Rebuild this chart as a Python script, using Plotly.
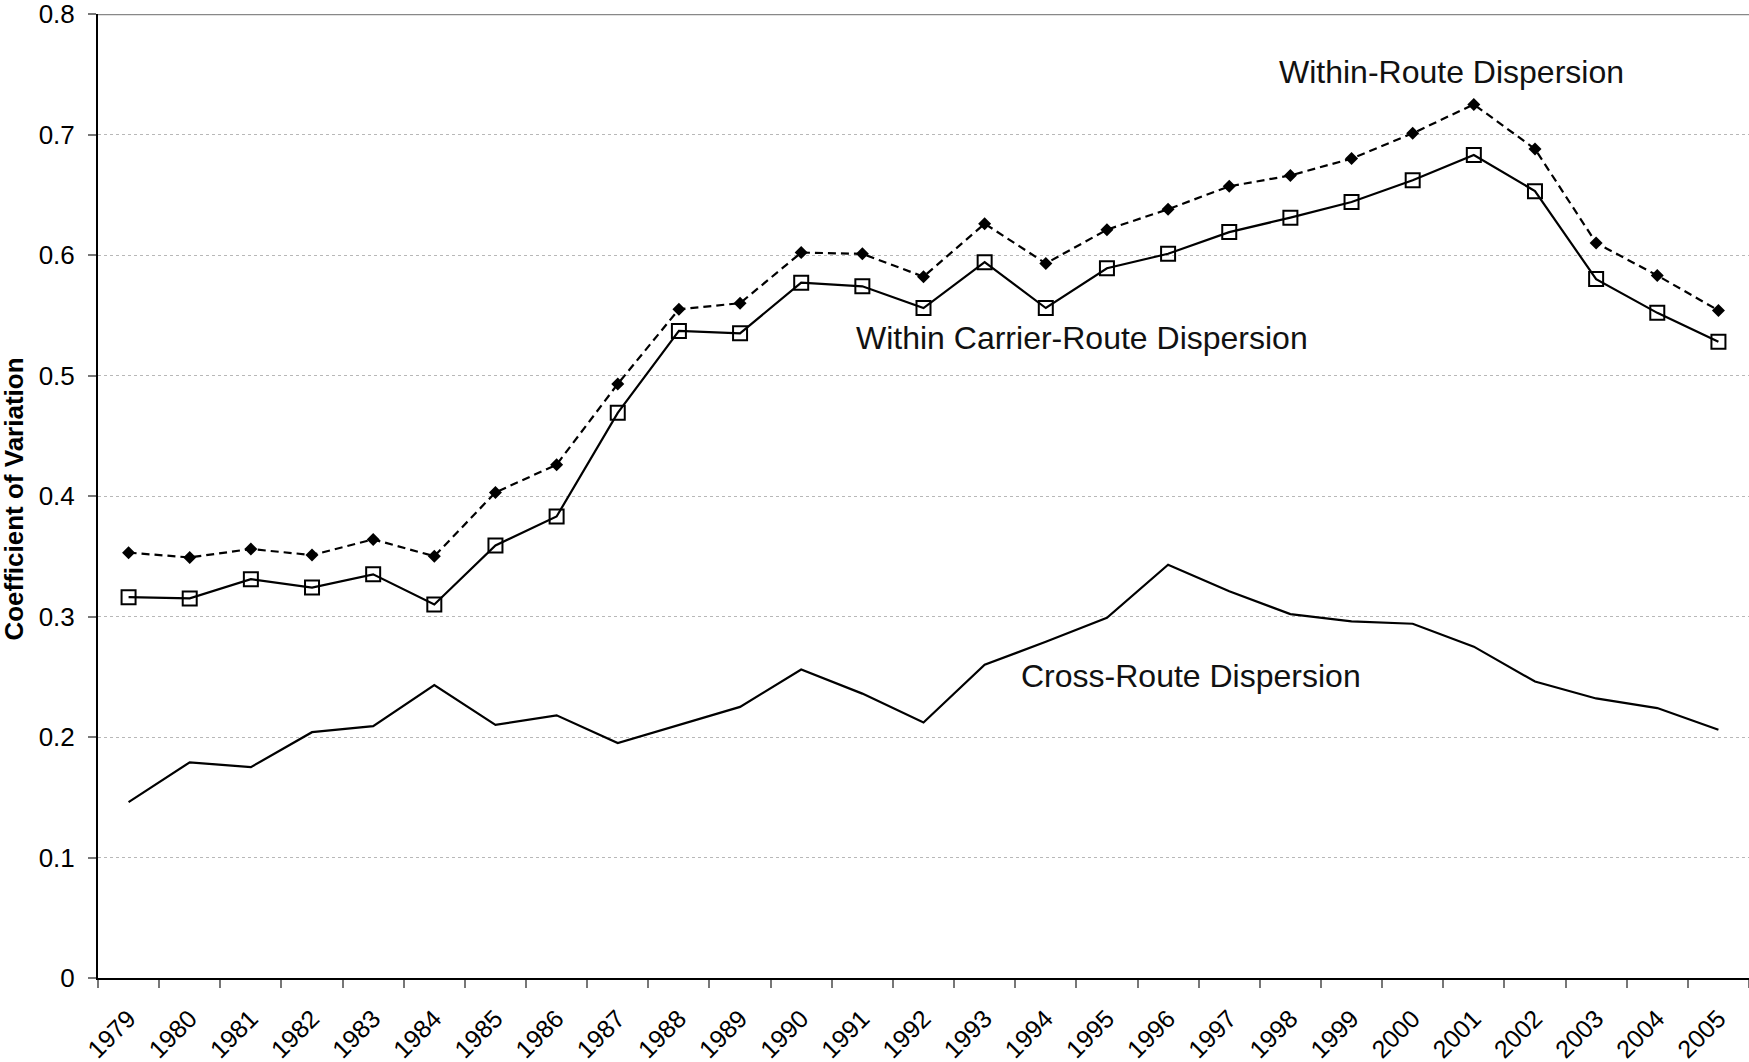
import plotly.graph_objects as go

years = [str(y) for y in range(1979, 2006)]

within_route = [0.353, 0.349, 0.356, 0.351, 0.364, 0.350, 0.403, 0.426, 0.493, 0.555,
                0.560, 0.602, 0.601, 0.582, 0.626, 0.593, 0.621, 0.638, 0.657, 0.666,
                0.680, 0.701, 0.725, 0.688, 0.610, 0.583, 0.554]

within_carrier_route = [0.316, 0.315, 0.331, 0.324, 0.335, 0.310, 0.359, 0.383, 0.469, 0.537,
                        0.535, 0.577, 0.574, 0.556, 0.594, 0.556, 0.589, 0.601, 0.619, 0.631,
                        0.644, 0.662, 0.683, 0.653, 0.580, 0.552, 0.528]

cross_route = [0.146, 0.179, 0.175, 0.204, 0.209, 0.243, 0.210, 0.218, 0.195, 0.210,
               0.225, 0.256, 0.236, 0.212, 0.260, 0.279, 0.299, 0.343, 0.321, 0.302,
               0.296, 0.294, 0.275, 0.246, 0.232, 0.224, 0.206]

y_ticks = [0, 0.1, 0.2, 0.3, 0.4, 0.5, 0.6, 0.7, 0.8]
y_tick_labels = ["0", "0.1", "0.2", "0.3", "0.4", "0.5", "0.6", "0.7", "0.8"]

FONT = "Liberation Sans, Arial, sans-serif"

fig = go.Figure()

fig.add_trace(go.Scatter(
    x=years, y=cross_route, mode="lines",
    line=dict(color="black", width=2.2),
    name="Cross-Route Dispersion", showlegend=False,
))
fig.add_trace(go.Scatter(
    x=years, y=within_route, mode="lines+markers",
    line=dict(color="black", width=2.2, dash="8px,5px"),
    marker=dict(symbol="diamond", size=10, color="black"),
    name="Within-Route Dispersion", showlegend=False,
))
fig.add_trace(go.Scatter(
    x=years, y=within_carrier_route, mode="lines+markers",
    line=dict(color="black", width=2.2),
    marker=dict(symbol="square-open", size=14, color="black", line=dict(width=2, color="black")),
    name="Within Carrier-Route Dispersion", showlegend=False,
))

fig.add_shape(type="line", xref="paper", yref="y", x0=0, x1=1, y0=0.8, y1=0.8,
              line=dict(color="#888888", width=2.5))

ann_font = dict(family=FONT, size=32, color="#111111")
for label, ax, ay in [("Within-Route Dispersion", 0.820, 0.940),
                      ("Within Carrier-Route Dispersion", 0.596, 0.664),
                      ("Cross-Route Dispersion", 0.662, 0.313)]:
    fig.add_annotation(text=label, xref="paper", yref="paper", x=ax, y=ay,
                       xanchor="center", yanchor="middle", showarrow=False, font=ann_font)

fig.add_annotation(text="<b>Coefficient of Variation</b>", xref="paper", yref="y",
                   x=0, y=0.397, xshift=-84, xanchor="center", yanchor="middle",
                   textangle=-90, showarrow=False,
                   font=dict(family=FONT, size=26, color="black"))

fig.update_layout(
    width=1749, height=1062,
    margin=dict(l=98, r=0, t=14, b=84, autoexpand=False),
    paper_bgcolor="white", plot_bgcolor="white",
    font=dict(family=FONT, size=25, color="black"),
    xaxis=dict(
        type="category", range=[-0.5, 26.5], tickangle=-45, automargin=False,
        tickson="boundaries", ticks="outside", ticklen=8, tickcolor="#777777", tickwidth=1.5,
        showline=True, linecolor="black", linewidth=2,
        showgrid=False, zeroline=False, ticklabeloverflow="allow", ticklabelstandoff=14,
        tickfont=dict(family=FONT, size=25, color="black"),
    ),
    yaxis=dict(
        range=[0, 0.8], tickvals=y_ticks, ticktext=y_tick_labels, automargin=False,
        ticks="outside", ticklen=8, tickcolor="#777777", tickwidth=1.5,
        showline=True, linecolor="black", linewidth=2,
        showgrid=True, gridcolor="#b8b8b8", gridwidth=1, griddash="dot",
        zeroline=False, ticklabelstandoff=8, ticklabeloverflow="allow",
        tickfont=dict(family=FONT, size=26, color="black"),
    ),
)

fig.write_html("out.html", config={"displayModeBar": False},
               post_script="document.body.style.margin='0';")
